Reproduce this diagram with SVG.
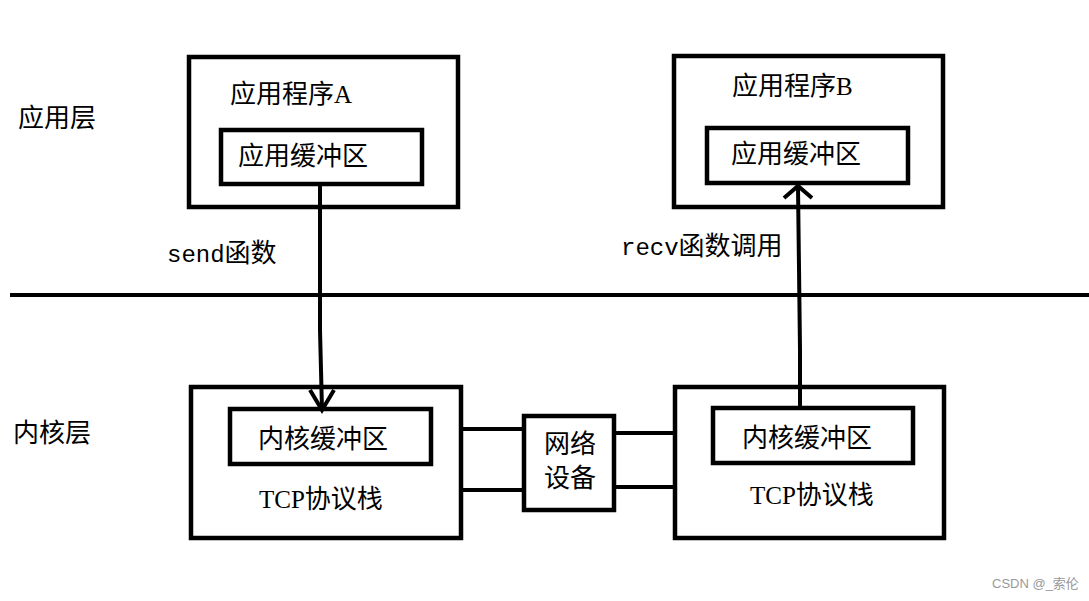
<svg xmlns="http://www.w3.org/2000/svg" width="1089" height="601" viewBox="0 0 1089 601">
<style>
.box{fill:none;stroke:#000;stroke-width:4.5}
.ln{fill:none;stroke:#000;stroke-width:4;stroke-linecap:butt}
.t{font-family:"Liberation Serif","Noto Sans CJK SC",serif;font-size:26px;fill:#000}
.lat{font-family:"Liberation Serif",serif;font-size:25px}
.mono{font-family:"Liberation Mono",monospace;font-size:24px}
.wm{font-family:"Liberation Sans","Noto Sans CJK SC",sans-serif;font-size:13px;fill:#999}
</style>
<rect width="1089" height="601" fill="#fff"/>
<g id="layer-labels">
<text class="t" x="18" y="127">应用层</text>
<text class="t" x="13" y="442">内核层</text>
</g>
<g id="appA">
<rect class="box" x="189" y="57" width="269" height="150"/>
<text class="t" x="230" y="103">应用程序<tspan class="lat">A</tspan></text>
</g>
<g id="appA-buf">
<rect class="box" x="221" y="130" width="201" height="54"/>
<text class="t" x="238" y="165">应用缓冲区</text>
</g>
<g id="appB">
<rect class="box" x="674" y="56" width="269" height="151"/>
<text class="t" x="732" y="95">应用程序<tspan class="lat">B</tspan></text>
</g>
<g id="appB-buf">
<rect class="box" x="707" y="128" width="201" height="55"/>
<text class="t" x="731" y="163">应用缓冲区</text>
</g>
<g id="kernA">
<rect class="box" x="191" y="387" width="270" height="151"/>
<text class="t" x="259" y="508"><tspan class="lat">TCP</tspan>协议栈</text>
</g>
<g id="kernA-buf">
<rect class="box" x="230" y="409" width="201" height="55"/>
<text class="t" x="258" y="448">内核缓冲区</text>
</g>
<g id="kernB">
<rect class="box" x="675" y="387" width="269" height="151"/>
<text class="t" x="750" y="504"><tspan class="lat">TCP</tspan>协议栈</text>
</g>
<g id="kernB-buf">
<rect class="box" x="713" y="408" width="200" height="55"/>
<text class="t" x="742" y="447">内核缓冲区</text>
</g>
<g id="netdev">
<rect class="box" x="524" y="416" width="90" height="94"/>
<text class="t" x="544" y="453">网络</text>
<text class="t" x="544" y="487">设备</text>
</g>
<g id="connectors">
<line class="ln" x1="10" y1="295" x2="1089" y2="295"/>
<polyline class="ln" points="320,184 320,330 322,410"/>
<polyline class="ln" points="310,390 322,410 334,390"/>
<polyline class="ln" points="800,408 800,350 798,186"/>
<polyline class="ln" points="784,198 798,186 812,198"/>
<line class="ln" x1="459" y1="429" x2="524" y2="429"/>
<line class="ln" x1="459" y1="490" x2="524" y2="490"/>
<line class="ln" x1="612" y1="433" x2="675" y2="433"/>
<line class="ln" x1="612" y1="487" x2="675" y2="487"/>
</g>
<g id="edge-labels">
<text class="t" x="167" y="262"><tspan class="mono">send</tspan>函数</text>
<text class="t" x="621" y="255"><tspan class="mono">recv</tspan>函数调用</text>
</g>
<text class="wm" x="992" y="588">CSDN @_索伦</text>
</svg>
